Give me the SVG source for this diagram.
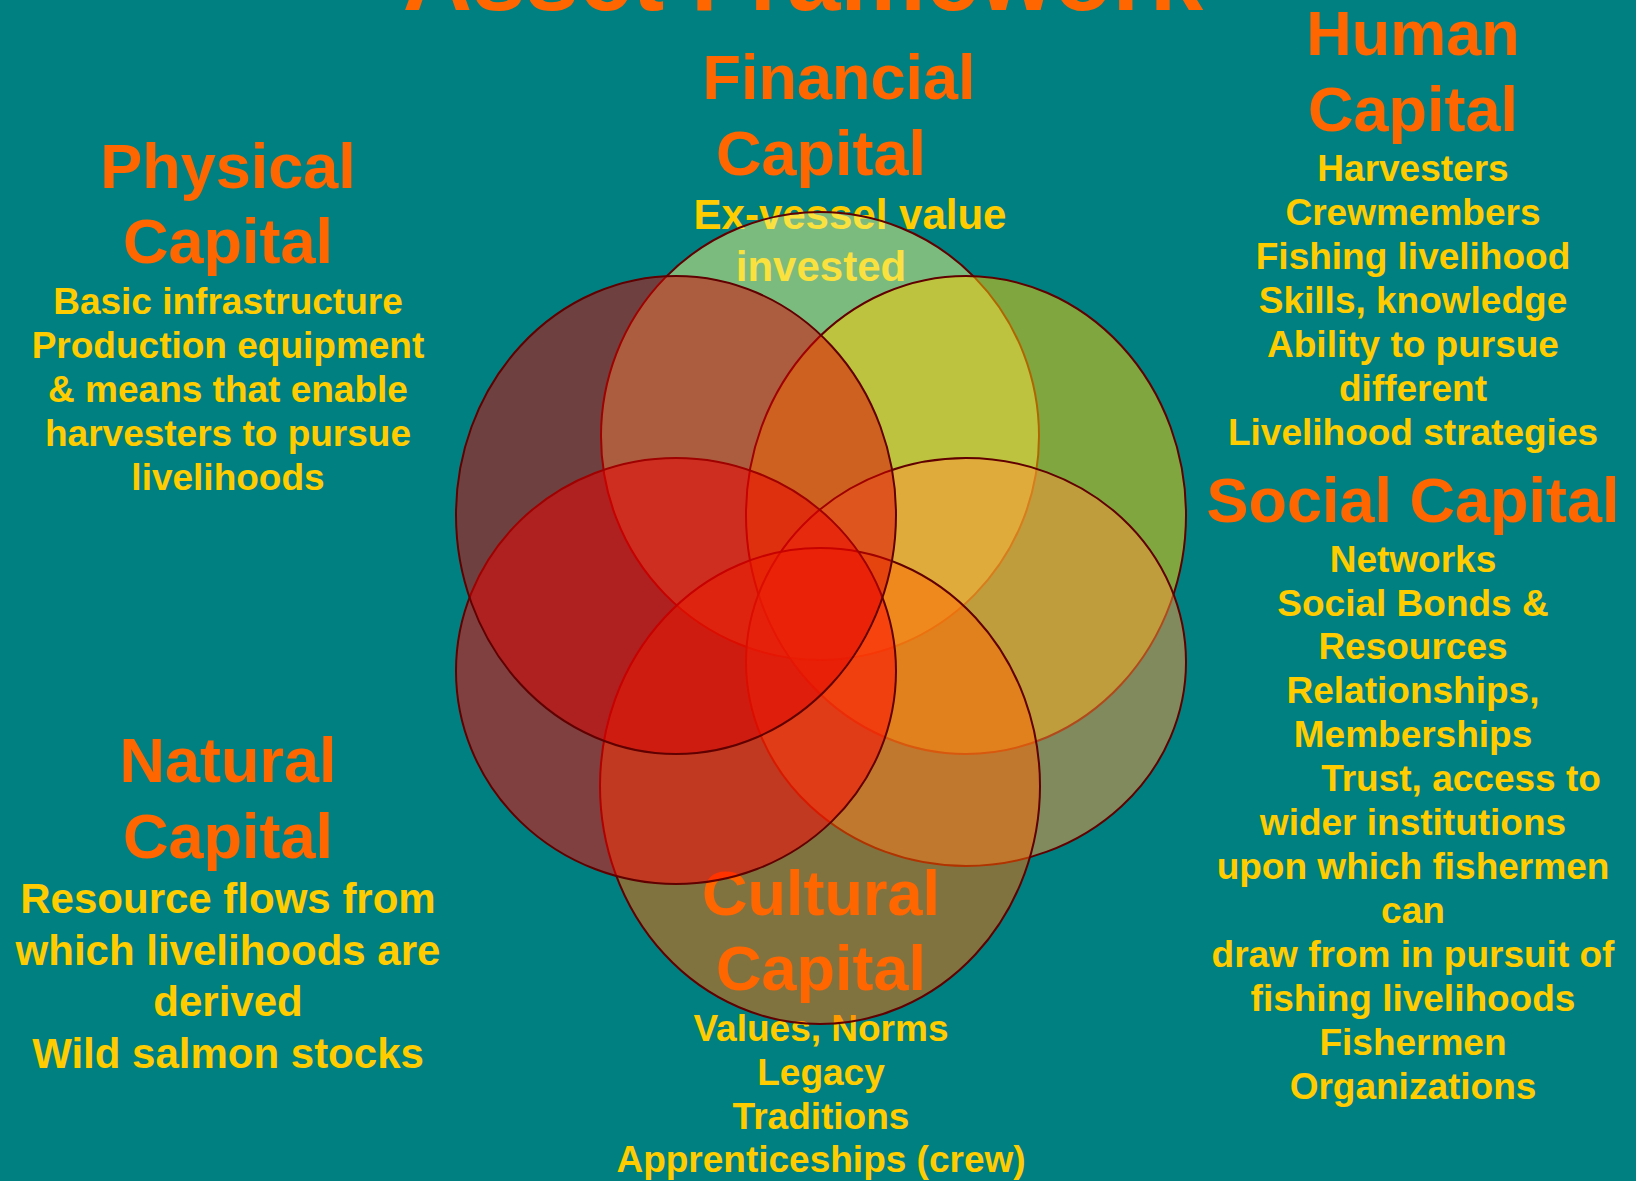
<svg xmlns="http://www.w3.org/2000/svg" width="1636" height="1181" viewBox="0 0 1636 1181">
<style>
text { font-family: "Liberation Sans", Arial, Helvetica, sans-serif; font-weight: bold; text-anchor: middle; }
.h { fill: #FF6600; font-size: 63px; }
.t { fill: #FF6600; font-size: 96px; }
.b { fill: #FFCC00; font-size: 37px; }
.bl { fill: #FFCC00; font-size: 42px; }
.c { fill-opacity: 0.5; stroke: #600000; stroke-width: 2; }
</style>
<rect x="0" y="0" width="1636" height="1181" fill="#008080"/>

<g id="title">
  <text class="t" x="803" y="10">Asset Framework</text>
</g>

<g id="financial-label">
  <text class="h" x="839" y="99">Financial</text>
  <text class="h" x="821" y="175">Capital</text>
  <text class="bl" x="850" y="229">Ex-vessel value</text>
  <text class="bl" x="821" y="281">invested</text>
</g>

<g id="cultural-label">
  <text class="h" x="821" y="915">Cultural</text>
  <text class="h" x="821" y="990">Capital</text>
  <text class="b" x="821" y="1041">Values, Norms</text>
  <text class="b" x="821" y="1085">Legacy</text>
  <text class="b" x="821" y="1129">Traditions</text>
  <text class="b" x="821" y="1172">Apprenticeships (crew)</text>
</g>

<g id="circles">
  <ellipse id="financial" class="c" cx="820" cy="436" rx="219" ry="224" fill="#F8F67C"/>
  <ellipse id="human" class="c" cx="966" cy="515" rx="220" ry="239" fill="#FFCC00"/>
  <ellipse id="social" class="c" cx="966" cy="662" rx="220" ry="204" fill="#FF9438"/>
  <ellipse id="cultural" class="c" cx="820" cy="786" rx="220" ry="238" fill="#FF6600"/>
  <ellipse id="natural" class="c" cx="676" cy="671" rx="220" ry="213" fill="#FF0000"/>
  <ellipse id="physical" class="c" cx="676" cy="515" rx="220" ry="239" fill="#DE0000"/>
</g>

<g id="physical-label">
  <text class="h" x="228" y="188">Physical</text>
  <text class="h" x="228" y="263">Capital</text>
  <text class="b" x="228" y="314">Basic infrastructure</text>
  <text class="b" x="228" y="358">Production equipment</text>
  <text class="b" x="228" y="402">&amp; means that enable</text>
  <text class="b" x="228" y="446">harvesters to pursue</text>
  <text class="b" x="228" y="490">livelihoods</text>
</g>

<g id="human-label">
  <text class="h" x="1413" y="55">Human</text>
  <text class="h" x="1413" y="131">Capital</text>
  <text class="b" x="1413" y="181">Harvesters</text>
  <text class="b" x="1413" y="225">Crewmembers</text>
  <text class="b" x="1413" y="269">Fishing livelihood</text>
  <text class="b" x="1413" y="313">Skills, knowledge</text>
  <text class="b" x="1413" y="357">Ability to pursue</text>
  <text class="b" x="1413" y="401">different</text>
  <text class="b" x="1413" y="445">Livelihood strategies</text>
</g>

<g id="social-label">
  <text class="h" x="1413" y="522">Social Capital</text>
  <text class="b" x="1413" y="572">Networks</text>
  <text class="b" x="1413" y="616">Social Bonds &amp;</text>
  <text class="b" x="1413" y="659">Resources</text>
  <text class="b" x="1413" y="703">Relationships,</text>
  <text class="b" x="1413" y="747">Memberships</text>
  <text class="b" x="1461" y="791">Trust, access to</text>
  <text class="b" x="1413" y="835">wider institutions</text>
  <text class="b" x="1413" y="879">upon which fishermen</text>
  <text class="b" x="1413" y="923">can</text>
  <text class="b" x="1413" y="967">draw from in pursuit of</text>
  <text class="b" x="1413" y="1011">fishing livelihoods</text>
  <text class="b" x="1413" y="1055">Fishermen</text>
  <text class="b" x="1413" y="1099">Organizations</text>
</g>

<g id="natural-label">
  <text class="h" x="228" y="782">Natural</text>
  <text class="h" x="228" y="858">Capital</text>
  <text class="bl" x="228" y="913">Resource flows from</text>
  <text class="bl" x="228" y="965">which livelihoods are</text>
  <text class="bl" x="228" y="1016">derived</text>
  <text class="bl" x="228" y="1068">Wild salmon stocks</text>
</g>
</svg>
